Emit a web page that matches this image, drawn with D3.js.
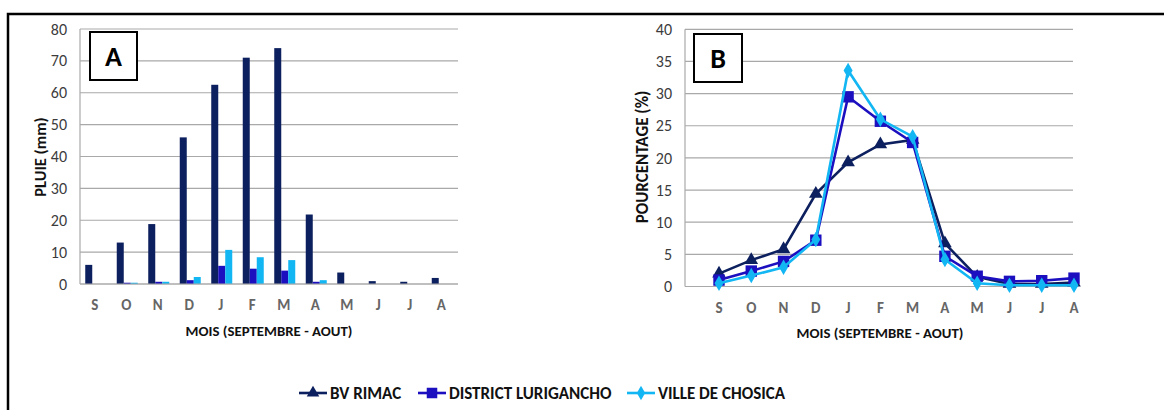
<!DOCTYPE html>
<html><head><meta charset="utf-8">
<script src="https://cdn.jsdelivr.net/npm/d3@7"></script>
<style>body{margin:0;background:#fff}svg{display:block;font-family:Carlito,Lato,"Open Sans",sans-serif}</style>
</head><body><svg id="c" width="1164" height="410"></svg>
<script>
const months = ["S","O","N","D","J","F","M","A","M","J","J","A"];
const seriesNames = ["BV RIMAC","DISTRICT LURIGANCHO","VILLE DE CHOSICA"];
const colors = ["#0c1f5e","#1c0fbf","#12b6f3"];
// Panel A: rainfall (mm)
const rainRimac = [6,13,18.8,46,62.5,71,74,21.8,3.6,0.9,0.7,1.9];
const rainLurigancho = [0,0.4,0.7,1.2,5.7,4.8,4.2,0.7,0,0,0,0];
const rainChosica = [0,0.4,0.7,2.2,10.7,8.4,7.5,1.2,0,0,0,0];
const ticksA = [0,10,20,30,40,50,60,70,80];
// Panel B: percentage
const pctRimac = [2.0,4.1,5.8,14.4,19.3,22.1,22.8,6.7,1.5,0.4,0.4,0.6];
const pctLurigancho = [1.0,2.4,3.9,7.2,29.5,25.7,22.4,4.7,1.6,0.8,0.9,1.3];
const pctChosica = [0.5,1.7,3.0,7.3,33.6,26.0,23.3,4.2,0.5,0.2,0.2,0.2];
const ticksB = [0,5,10,15,20,25,30,35,40];

const svg = d3.select("#c");
const gridCol = "#a9a9a9", tickCol = "#3c3c3c", catCol = "#666";

// frame
svg.append("path").attr("d","M8,410 V14 H1164").attr("fill","none").attr("stroke","#000").attr("stroke-width",2.5);

function gridAxis(x0,x1,y,ticks){
  const g = svg.append("g");
  ticks.forEach(t=>{
    g.append("line").attr("x1",x0).attr("x2",x1).attr("y1",y(t)).attr("y2",y(t))
      .attr("stroke",gridCol).attr("stroke-width",1.2);
  });
  g.append("line").attr("x1",x0).attr("x2",x0).attr("y1",y(ticks[ticks.length-1])).attr("y2",y(0))
    .attr("stroke",gridCol).attr("stroke-width",1.2);
  ticks.forEach(t=>{
    g.append("text").attr("x",x0-13).attr("y",y(t)).attr("dy","0.35em").attr("text-anchor","end")
      .attr("font-size",16).attr("fill",tickCol).text(t);
  });
}
function catLabels(scale,y,off){
  months.forEach((m,i)=>{
    svg.append("text").attr("x",scale(i)+off).attr("y",y).attr("text-anchor","middle")
      .attr("font-size",15).attr("font-weight","bold").attr("fill",catCol).text(m);
  });
}
function titles(cx,cy,xt,yx,yt,yy,ys){
  svg.append("text").attr("x",cx).attr("y",cy).attr("text-anchor","middle")
    .attr("font-size",14.8).attr("font-weight","bold").attr("fill","#111").text(xt);
  svg.append("text").attr("transform",`translate(${yx},${yy}) rotate(-90)`).attr("text-anchor","middle")
    .attr("font-size",ys).attr("font-weight","bold").attr("fill","#111").text(yt);
}
function labelBox(x,y,w,h,t){
  svg.append("rect").attr("x",x).attr("y",y).attr("width",w).attr("height",h)
    .attr("fill","#fff").attr("stroke","#000").attr("stroke-width",2);
  svg.append("text").attr("x",x+w/2).attr("y",y+h/2).attr("dy","0.36em").attr("text-anchor","middle")
    .attr("font-size",28).attr("font-weight","bold").attr("fill","#000").text(t);
}

// ---- Panel A ----
const yA = d3.scaleLinear().domain([0,80]).range([284,29]);
const xA = d3.scaleBand().domain(d3.range(12)).range([80,458]).paddingInner(1/3).paddingOuter(1/6);
const xAin = d3.scaleBand().domain([0,1,2]).range([0,xA.bandwidth()]);
gridAxis(80,458,yA,ticksA);
const rainSeries = [rainRimac,rainLurigancho,rainChosica];
rainSeries.forEach((vals,s)=>{
  svg.append("g").selectAll("rect").data(vals).join("rect")
    .attr("x",(d,i)=>xA(i)+xAin(s)).attr("width",xAin.bandwidth())
    .attr("y",d=>yA(d)).attr("height",d=>yA(0)-yA(d)).attr("fill",colors[s]);
});
svg.append("line").attr("x1",80).attr("x2",458).attr("y1",yA(0)).attr("y2",yA(0)).attr("stroke",gridCol).attr("stroke-width",1.2);
const xAc = i=>xA(i)+xA.bandwidth()/2 - 1;
catLabels(xAc,310,0);
titles(269,336,"MOIS (SEPTEMBRE - AOUT)",46,"PLUIE (mm)",157,16.5);
labelBox(90,32,47,48,"A");

// ---- Panel B ----
const yB = d3.scaleLinear().domain([0,40]).range([286.5,29.3]);
const xB = d3.scalePoint().domain(d3.range(12)).range([719,1074]);
gridAxis(685,1073,yB,ticksB);
catLabels(xB,313,0);
titles(880,338,"MOIS (SEPTEMBRE - AOUT)",648,"POURCENTAGE (%)",157,17);
labelBox(694,34,48,48,"B");

const pctSeries = [pctRimac,pctLurigancho,pctChosica];
const line = d3.line().x((d,i)=>xB(i)).y(d=>yB(d));
const sym = [d3.symbolTriangle, d3.symbolSquare, d3.symbolDiamond];
const symSize = [80,130,70];
pctSeries.forEach((vals,s)=>{
  svg.append("path").datum(vals).attr("d",line).attr("fill","none")
    .attr("stroke",colors[s]).attr("stroke-width",2.6);
  svg.append("g").selectAll("path").data(vals).join("path")
    .attr("transform",(d,i)=>`translate(${xB(i)},${yB(d)})`)
    .attr("d",d3.symbol().type(sym[s]).size(symSize[s])).attr("fill",colors[s]);
});

// ---- Legend ----
const legX = [299,418,627];
const legG = svg.append("g");
seriesNames.forEach((n,s)=>{
  const x = legX[s], y = 393;
  legG.append("line").attr("x1",x).attr("x2",x+28).attr("y1",y).attr("y2",y).attr("stroke",colors[s]).attr("stroke-width",2.6);
  legG.append("path").attr("transform",`translate(${x+14},${y})`).attr("d",d3.symbol().type(sym[s]).size(symSize[s]*0.85)).attr("fill",colors[s]);
  legG.append("text").attr("x",x+31).attr("y",y).attr("dy","0.36em").attr("font-size",17).attr("font-weight","bold").attr("fill","#111").text(n);
});
</script></body></html>
